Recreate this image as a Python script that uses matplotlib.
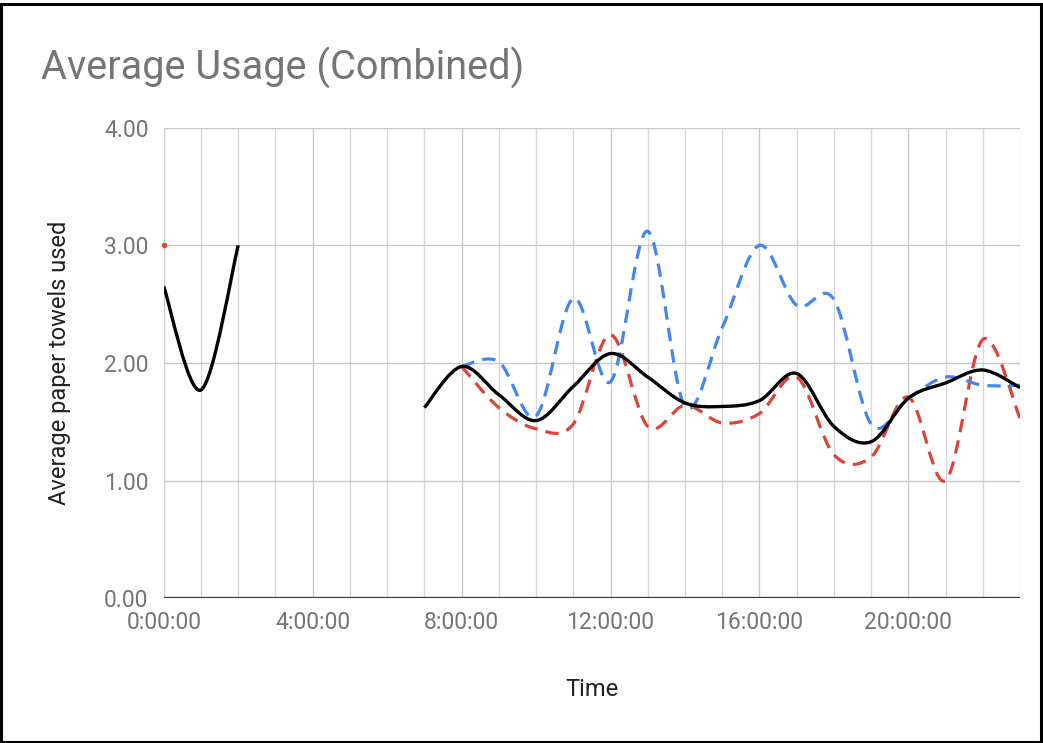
import matplotlib
matplotlib.use("Agg")
import matplotlib.pyplot as plt
from matplotlib.path import Path
from matplotlib.patches import PathPatch, Rectangle
from matplotlib.ticker import FixedLocator, FuncFormatter

plt.rcParams['font.family'] = ['Roboto', 'DejaVu Sans']

# Hour of day (0..23); None marks hours without data
hours = list(range(24))

combined = [2.65, 1.77, 3.00, None, None, None, None, 1.62,
            1.97, 1.73, 1.51, 1.80, 2.08, 1.88, 1.66, 1.63,
            1.68, 1.91, 1.46, 1.33, 1.70, 1.83, 1.94, 1.79]

series_blue = [None, None, None, None, None, None, None, None,
               1.97, 2.01, 1.55, 2.55, 1.84, 3.12, 1.63, 2.30,
               3.00, 2.49, 2.54, 1.48, 1.70, 1.88, 1.81, 1.81]

series_red = [3.00, None, None, None, None, None, None, None,
              1.97, 1.62, 1.44, 1.48, 2.24, 1.46, 1.64, 1.49,
              1.57, 1.88, 1.22, 1.20, 1.71, 1.00, 2.20, 1.53]

x_tick_hours = [0, 4, 8, 12, 16, 20]
y_ticks = [0, 1, 2, 3, 4]

TITLE = "Average Usage (Combined)"
X_LABEL = "Time"
Y_LABEL = "Average paper towels used"


def runs(xs, ys):
    """Split a series into consecutive non-missing runs."""
    out, cur = [], []
    for x, y in zip(xs, ys):
        if y is None:
            if cur:
                out.append(cur)
            cur = []
        else:
            cur.append((x, y))
    if cur:
        out.append(cur)
    return out


def smooth_path(pts, t=1.0 / 6.0):
    """Catmull-Rom style cubic Bezier path through the points."""
    verts = [pts[0]]
    codes = [Path.MOVETO]
    n = len(pts)
    for i in range(n - 1):
        p0 = pts[i - 1] if i > 0 else pts[i]
        p1 = pts[i]
        p2 = pts[i + 1]
        p3 = pts[i + 2] if i + 2 < n else pts[i + 1]
        c1 = (p1[0] + (p2[0] - p0[0]) * t, p1[1] + (p2[1] - p0[1]) * t)
        c2 = (p2[0] - (p3[0] - p1[0]) * t, p2[1] - (p3[1] - p1[1]) * t)
        verts += [c1, c2, p2]
        codes += [Path.CURVE4] * 3
    return Path(verts, codes)


def draw_series(ax, ys, color, dashed, lw, z):
    for seg in runs(hours, ys):
        if len(seg) == 1:
            ax.plot([seg[0][0]], [seg[0][1]], 'o', color=color, ms=4,
                    mec='none', zorder=z, clip_on=False)
            continue
        patch = PathPatch(smooth_path(seg), fill=False, edgecolor=color,
                          linewidth=lw, zorder=z, capstyle='butt',
                          joinstyle='round')
        if dashed:
            patch.set_linestyle((0, (4.2, 2.6)))
        ax.add_patch(patch)


fig = plt.figure(figsize=(10.43, 7.43), dpi=100)
ax = fig.add_axes([0.157, 0.195, 0.821, 0.633])

ax.set_xlim(0, 23)
ax.set_ylim(0, 4)

# gridlines
ax.xaxis.set_major_locator(FixedLocator(x_tick_hours))
ax.xaxis.set_minor_locator(FixedLocator(hours))
ax.yaxis.set_major_locator(FixedLocator(y_ticks))
ax.grid(which='major', axis='both', color='#c8c8c8', linewidth=1.0, zorder=0)
ax.grid(which='minor', axis='x', color='#d8d8d8', linewidth=1.0, zorder=0)
ax.set_axisbelow(True)
for s in ax.spines.values():
    s.set_visible(False)
ax.axhline(0, color='#333333', linewidth=1.6, zorder=1)

ax.xaxis.set_major_formatter(FuncFormatter(lambda v, p: f"{int(round(v))}:00:00"))
ax.yaxis.set_major_formatter(FuncFormatter(lambda v, p: f"{v:.2f}"))
ax.tick_params(axis='both', which='both', length=0, labelsize=16.5,
               labelcolor='#757575')
ax.tick_params(axis='x', pad=9)
ax.tick_params(axis='y', pad=11)

draw_series(ax, series_red, '#db4437', True, 2.3, 3)
draw_series(ax, series_blue, '#4285f4', True, 2.3, 4)
draw_series(ax, combined, '#000000', False, 2.4, 5)

ax.set_xlabel(X_LABEL, fontsize=17, color='#222222', labelpad=32)
ax.set_ylabel(Y_LABEL, fontsize=17, color='#222222', labelpad=24)

fig.text(0.039, 0.893, TITLE, fontsize=28.5, color='#757575',
         ha='left', va='baseline')

# frame around the whole figure
fig.add_artist(Rectangle((0.001, 0.002), 0.997, 0.993, transform=fig.transFigure,
                         fill=False, edgecolor='black', linewidth=2.2))

fig.savefig("out.png", dpi=100)
